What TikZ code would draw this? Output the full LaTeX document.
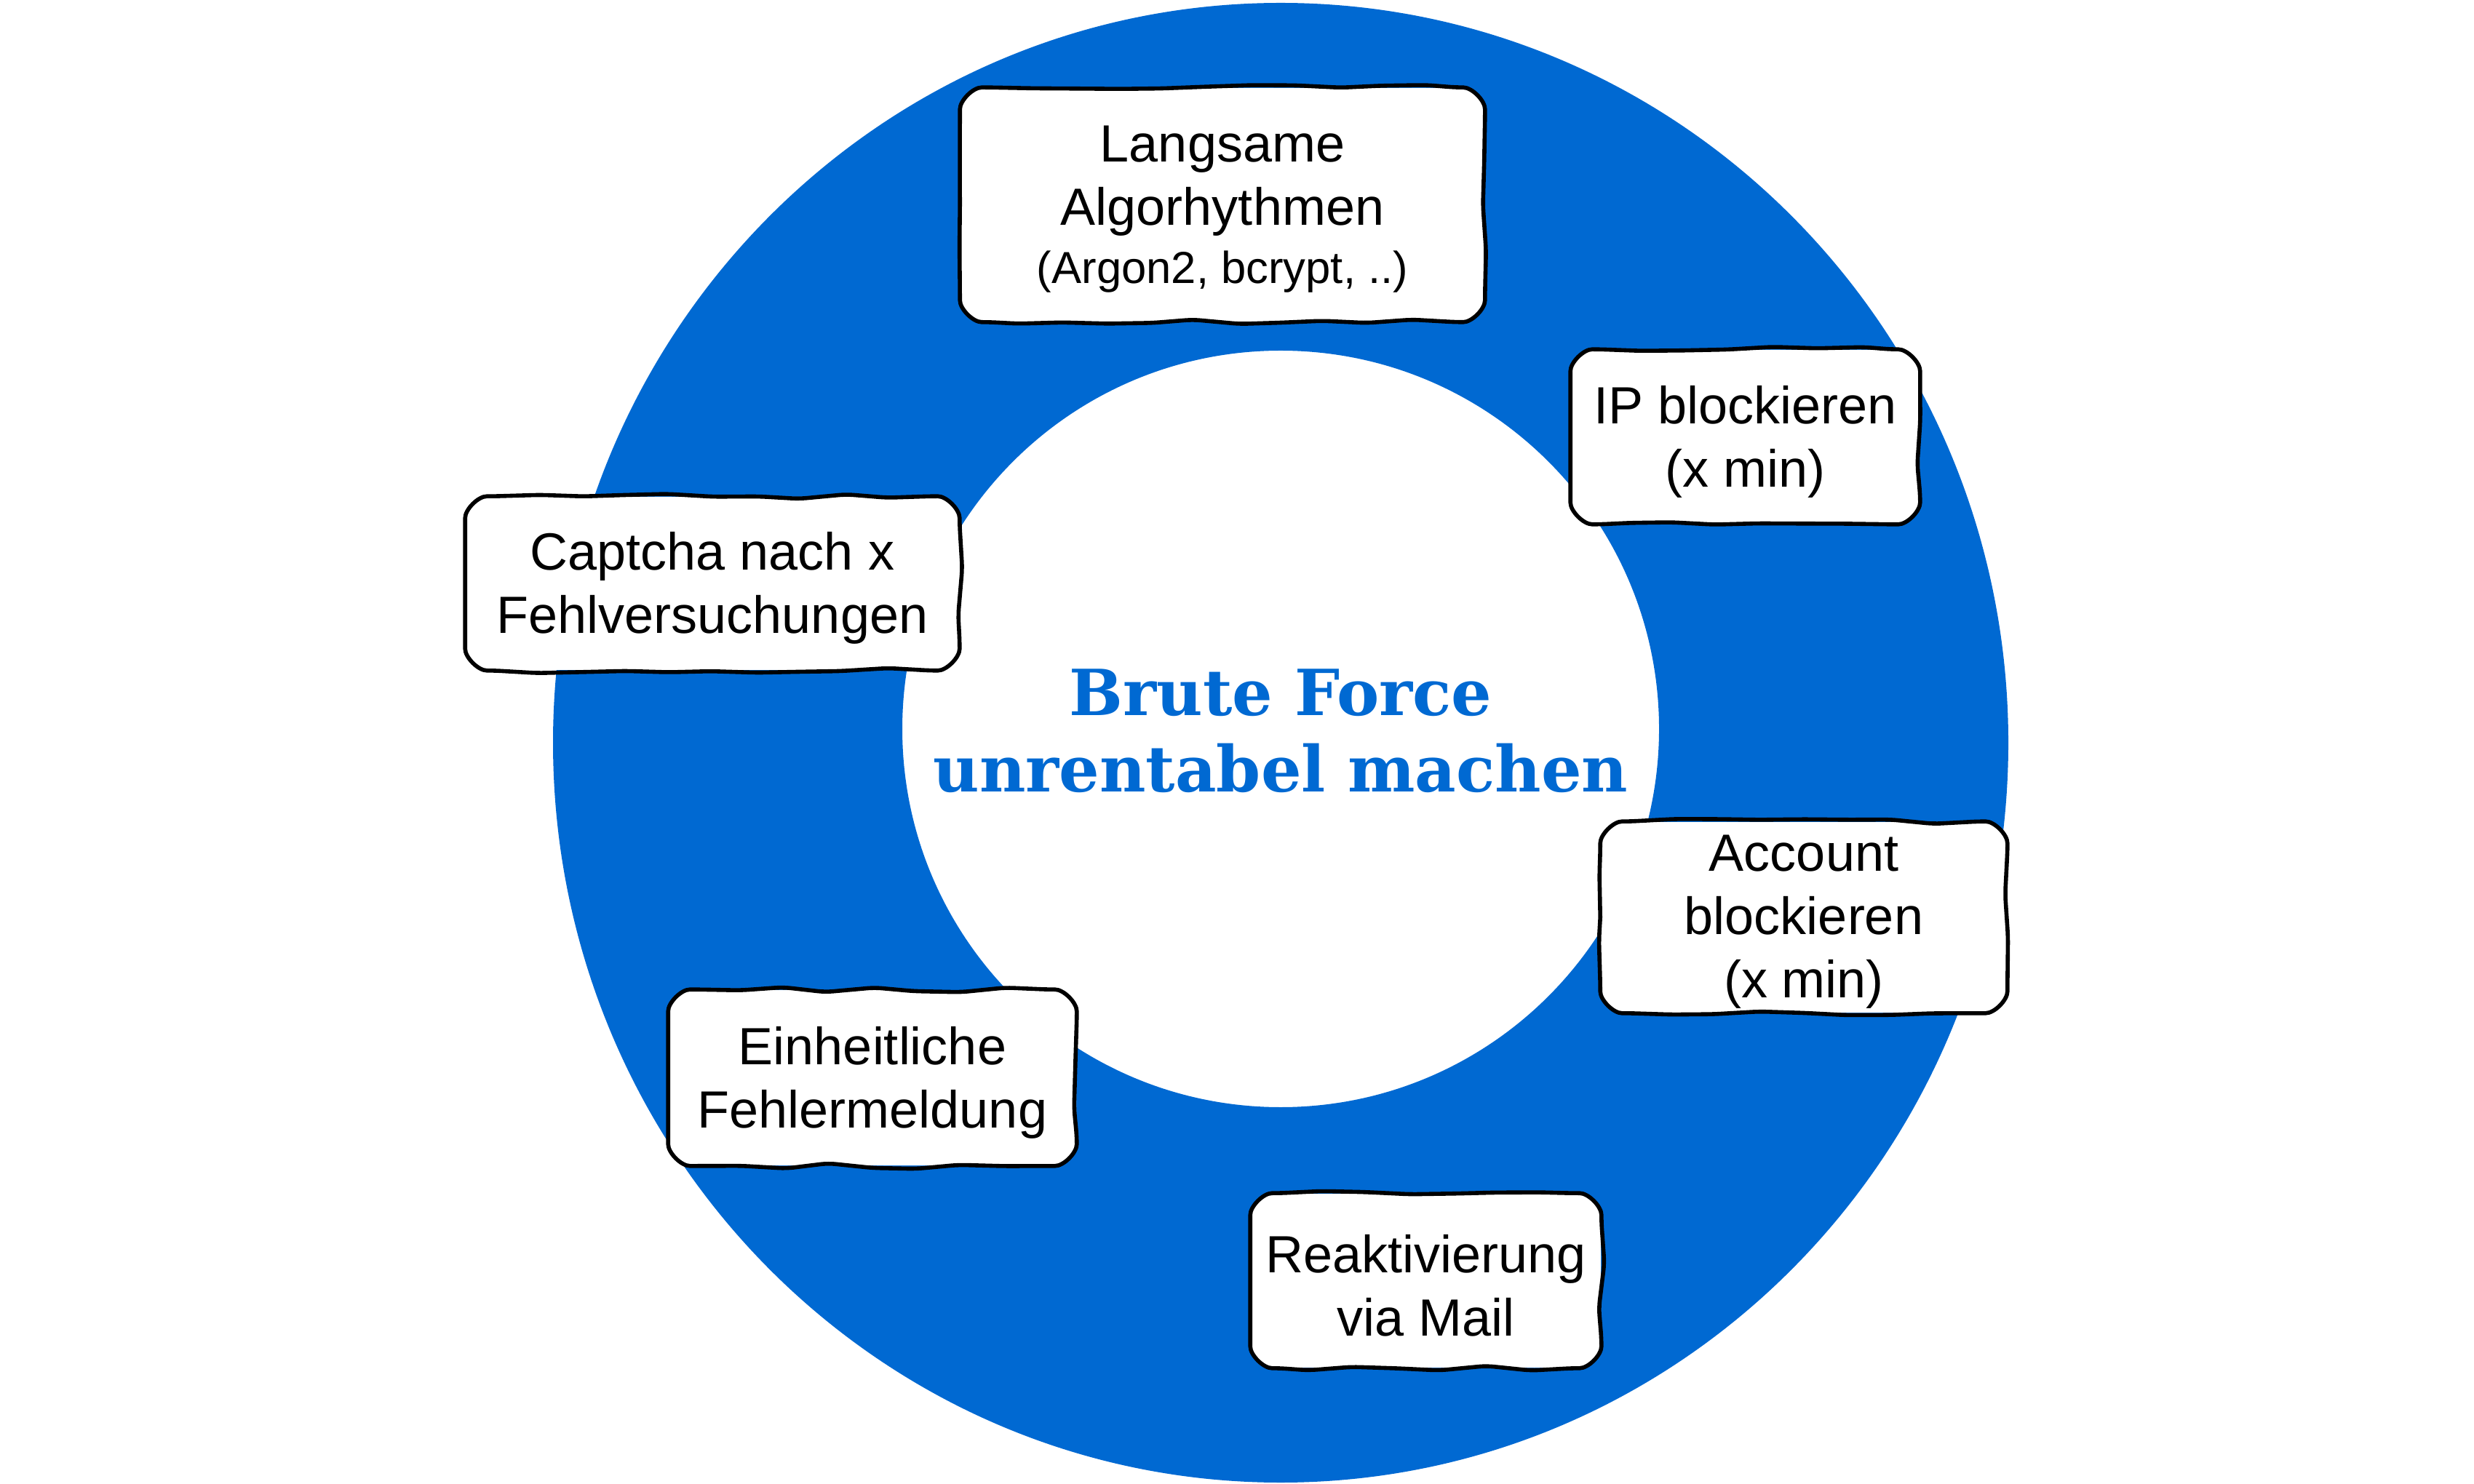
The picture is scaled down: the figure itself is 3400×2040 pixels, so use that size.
\documentclass[tikz,border=0pt]{standalone}
\usepackage{fontspec}
\setmainfont{Liberation Sans}
\newfontfamily\headfont{DejaVu Serif}
\usetikzlibrary{calc,decorations.pathmorphing}
\definecolor{ringblue}{RGB}{0,105,210}

\tikzset{
  card/.style={fill=white, draw=none, inner sep=0pt, rounded corners=9pt},
  cardtext/.style={inner sep=0pt, align=center, yshift=-1.6pt,
    font=\fontsize{18}{21.75}\selectfont},
  sketchline/.style={draw=black, line width=1.4pt, line join=round,
    line cap=round, rounded corners=2.5pt},
  wobble/.style={decoration={random steps, segment length=15pt, amplitude=1pt}},
  headline/.style={align=center, text=ringblue,
    font=\headfont\bfseries\fontsize{21.85}{26.25}\selectfont},
}

% hand-drawn outline around a card: wobbly sides, round corners
\newcommand{\sketchborder}[2]{%
  \pgfmathsetseed{#2}%
  \draw[sketchline]
    (#1.west)
    decorate[wobble]{-- ($(#1.north west)+(0pt,-10pt)$)}
    .. controls ($(#1.north west)+(0pt,-4.5pt)$) and ($(#1.north west)+(4.5pt,0pt)$)
    .. ($(#1.north west)+(10pt,0pt)$)
    decorate[wobble]{-- ($(#1.north east)+(-10pt,0pt)$)}
    .. controls ($(#1.north east)+(-4.5pt,0pt)$) and ($(#1.north east)+(0pt,-4.5pt)$)
    .. ($(#1.north east)+(0pt,-10pt)$)
    decorate[wobble]{-- ($(#1.south east)+(0pt,10pt)$)}
    .. controls ($(#1.south east)+(0pt,4.5pt)$) and ($(#1.south east)+(-4.5pt,0pt)$)
    .. ($(#1.south east)+(-10pt,0pt)$)
    decorate[wobble]{-- ($(#1.south west)+(10pt,0pt)$)}
    .. controls ($(#1.south west)+(4.5pt,0pt)$) and ($(#1.south west)+(0pt,4.5pt)$)
    .. ($(#1.south west)+(0pt,10pt)$)
    decorate[wobble]{-- (#1.west)};
}

\begin{document}
\begin{tikzpicture}[x=0.25pt,y=-0.25pt]
  \useasboundingbox (0,0) rectangle (3400,2040);

  % the ring
  \fill[ringblue, even odd rule]
    (1760,1021) ellipse [x radius=1000, y radius=1017]
    (1760,1002) circle [radius=520];

  % centre title
  \node[headline] (title) at (1760,1005) {Brute Force\\unrentabel machen};

  % card backgrounds
  \node[card, minimum width=180pt, minimum height=80.25pt] (slow) at (1680,281.5) {};
  \node[card, minimum width=119.75pt, minimum height=59.75pt] (ip) at (2398.5,600.5) {};
  \node[card, minimum width=169.5pt, minimum height=59.5pt] (captcha) at (979,802) {};
  \node[card, minimum width=139.5pt, minimum height=65.5pt] (account) at (2479,1261) {};
  \node[card, minimum width=140pt, minimum height=60.25pt] (uniform) at (1199,1481.5) {};
  \node[card, minimum width=120.25pt, minimum height=59.75pt] (mail) at (1959.5,1760.5) {};

  % card texts
  \node[cardtext] (slowtext) at (slow)
    {Langsame\\Algorhythmen\\[-1.75pt]{\fontsize{15.4}{20}\selectfont (Argon2, bcrypt, ..)}};
  \node[cardtext] (iptext) at (ip) {IP blockieren\\(x min)};
  \node[cardtext] (captchatext) at (captcha) {Captcha nach x\\Fehlversuchungen};
  \node[cardtext] (accounttext) at (account) {Account\\blockieren\\(x min)};
  \node[cardtext] (uniformtext) at (uniform) {Einheitliche\\Fehlermeldung};
  \node[cardtext] (mailtext) at (mail) {Reaktivierung\\via Mail};

  % outlines
  \sketchborder{slow}{11}
  \sketchborder{ip}{23}
  \sketchborder{captcha}{37}
  \sketchborder{account}{41}
  \sketchborder{uniform}{53}
  \sketchborder{mail}{67}
\end{tikzpicture}
\end{document}
